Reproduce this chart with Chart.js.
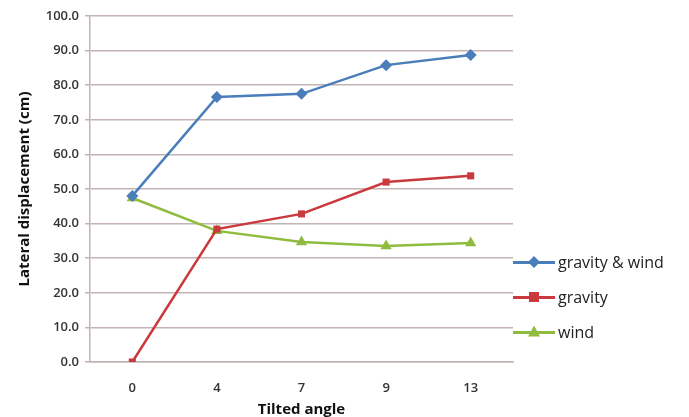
<!DOCTYPE html>
<html>
<head>
<meta charset="utf-8">
<script src="https://cdn.jsdelivr.net/npm/chart.js@4"></script>
<style>
  body { margin: 0; background: #fff; }
  #wrap { position: relative; width: 689px; height: 417px; }
  #legend { position: absolute; left: 513px; top: 244px; font-family: "Open Sans", sans-serif; font-size: 16px; color: #222; }
  .item { display: flex; align-items: center; height: 35px; }
  .sw { position: relative; width: 42px; height: 14px; margin-right: 3px; }
  .sw .ln { position: absolute; left: 0; right: 0; top: 6px; height: 3px; }
  .sw .mk { position: absolute; left: 16px; top: 2px; width: 10px; height: 10px; }
</style>
</head>
<body>
<div id="wrap">
  <canvas id="myLineChart" width="689" height="417"></canvas>
  <div id="legend"></div>
</div>
<script>
var angles = ["0", "4", "7", "9", "13"];
var gravityWind = [48.0, 76.6, 77.5, 85.8, 88.7];
var gravity = [0.0, 38.4, 42.8, 52.0, 53.8];
var wind = [47.4, 37.9, 34.7, 33.5, 34.4];
var seriesNames = ["gravity & wind", "gravity", "wind"];
var lineColors = ["#4a7ebb", "#c9393d", "#8fbb3f"];
var markers = ["rectRot", "rect", "triangle"];
var markerSizes = [6, 5, 6.5];

var font = "'Open Sans', sans-serif";
var gridColor = "#c2b4b2";

var seriesData = [gravityWind, gravity, wind];
var datasets = seriesData.map(function (d, i) {
    return {
        label: seriesNames[i],
        data: d,
        borderColor: lineColors[i],
        backgroundColor: lineColors[i],
        borderWidth: 2.5,
        pointStyle: markers[i],
        pointRadius: markerSizes[i],
        pointBorderWidth: 0,
        tension: 0
    };
});

new Chart("myLineChart", {
    type: "line",
    data: { labels: angles, datasets: datasets },
    options: {
        responsive: false,
        animation: false,
        layout: { padding: { left: 12, top: 16, right: 176, bottom: 0 } },
        plugins: { legend: { display: false }, tooltip: { enabled: false } },
        scales: {
            x: {
                offset: true,
                grid: { display: false },
                border: { color: gridColor, width: 1.5 },
                ticks: { color: "#333", font: { family: font, size: 13, weight: "600" }, padding: 10 },
                title: { display: true, text: "Tilted angle", color: "#111", font: { family: font, size: 15, weight: "bold", lineHeight: 1.0 }, padding: { top: 5, bottom: 0 } },
                afterFit: function (s) { s.height = 55; }
            },
            y: {
                min: 0,
                max: 100,
                ticks: {
                    stepSize: 10,
                    color: "#333",
                    font: { family: font, size: 13, weight: "600" },
                    padding: 6,
                    callback: function (v) { return v.toFixed(1); }
                },
                grid: { color: gridColor, lineWidth: 1.5, tickLength: 5 },
                border: { color: gridColor, width: 1.5 },
                title: { display: true, text: "Lateral displacement (cm)", color: "#111", font: { family: font, size: 15, weight: "bold" }, padding: { bottom: 4 } },
                afterFit: function (s) { s.width = 78; }
            }
        }
    }
});

// legend with line + marker
var lg = document.getElementById("legend");
seriesNames.forEach(function (name, i) {
    var c = lineColors[i];
    var mk;
    if (markers[i] === "rectRot") {
        mk = '<div class="mk" style="background:' + c + ';transform:rotate(45deg) scale(0.85);"></div>';
    } else if (markers[i] === "rect") {
        mk = '<div class="mk" style="background:' + c + ';"></div>';
    } else {
        mk = '<div class="mk" style="background:' + c + ';clip-path:polygon(50% 0,100% 100%,0 100%);left:15px;width:12px;top:1px;height:11px;"></div>';
    }
    lg.innerHTML += '<div class="item"><div class="sw"><div class="ln" style="background:' + c + '"></div>' + mk + '</div><span>' + name + '</span></div>';
});
</script>
</body>
</html>
